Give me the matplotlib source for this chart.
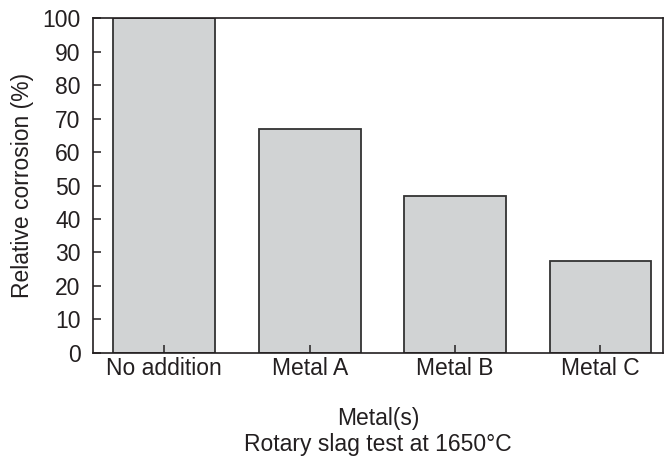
import numpy as np
import matplotlib.pyplot as plt

plt.rcParams['font.family'] = ['Liberation Sans', 'DejaVu Sans']

categories = ['No addition', 'Metal A', 'Metal B', 'Metal C']
corrosion = [100, 67, 47, 27.5]

fig = plt.figure(figsize=(6.66, 4.63), dpi=100)
ax = fig.add_axes([0.1396, 0.2376, 0.8559, 0.7235])

x = np.arange(len(categories))
ax.bar(x, corrosion, width=0.7, color='#d1d3d4', edgecolor='#333333', linewidth=1.3)

ax.set_xlim(-0.49, 3.43)
ax.set_ylim(0, 100)
ax.set_yticks(np.arange(0, 101, 10))
ax.set_xticks(x)
ax.set_xticklabels(categories)
ax.tick_params(direction='in', labelsize=16.5, colors='#231f20', width=1.1, length=6)
ax.tick_params(axis='x', length=6, pad=3)
ax.tick_params(axis='y', pad=9)
for sp in ax.spines.values():
    sp.set_linewidth(1.2)
    sp.set_color('#231f20')

ax.set_ylabel('Relative corrosion (%)', fontsize=16.5, color='#231f20', labelpad=6)
ax.set_xlabel('Metal(s)\nRotary slag test at 1650\u00b0C', fontsize=16.5,
              color='#231f20', labelpad=19, linespacing=1.2)

fig.savefig('out.png', dpi=100)
